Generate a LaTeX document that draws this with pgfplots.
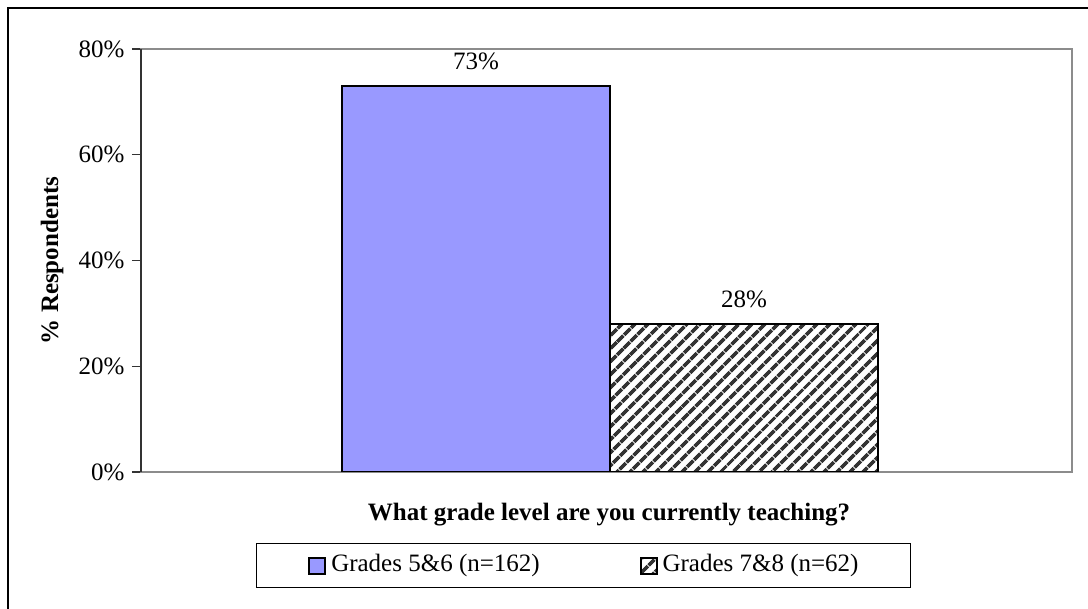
\documentclass[border=0pt]{standalone}
\usepackage{fontspec}
\setmainfont{Liberation Serif}
\usepackage{pgfplots}
\pgfplotsset{compat=1.18}
\usetikzlibrary{patterns.meta}
\definecolor{barblue}{HTML}{9999FF}
\definecolor{framegray}{HTML}{8C8C8C}
\definecolor{axisdark}{HTML}{333333}
\begin{document}
\begin{tikzpicture}[font=\fontsize{25bp}{29bp}\selectfont]
\useasboundingbox (0,0) rectangle (1088bp,609bp);
\draw[black, line width=1.2bp] (8bp,0) -- (8bp,601bp) -- (1088bp,601bp);
\begin{axis}[
  at={(141bp,137bp)}, anchor=south west,
  scale only axis, width=931bp, height=423bp,
  ybar=0pt, bar width=268bp,
  xmin=-469, xmax=462,
  ymin=0, ymax=80,
  ytick={0,20,40,60,80},
  xtick=\empty,
  ytick pos=left,
  /pgf/number format/assume math mode=true,
  yticklabel={\pgfmathprintnumber{\tick}\%},
  yticklabel style={xshift=-4bp},
  tick align=outside, major tick length=9bp,
  y tick style={axisdark, line width=1.2bp},
  axis line style={framegray, line width=1.2bp},
  extra description/.code={\draw[axisdark, line width=1.4bp] (0,0) -- (0,1);},
  ylabel={\textbf{\% Respondents}},
  ylabel style={at={(axis description cs:-0.0956,0.5)}, anchor=center, rotate=0},
  xlabel={\textbf{What grade level are you currently teaching?}},
  xlabel style={at={(axis description cs:0.5027,-0.1017)}, anchor=center},
  nodes near coords={\pgfmathprintnumber{\pgfplotspointmeta}\%},
  every node near coord/.append style={anchor=center, yshift=25bp, black},
  legend columns=2,
  legend image code/.code={\draw[#1, line width=1.8bp] (0bp,-8bp) rectangle (16bp,8bp);},
  legend style={at={(axis description cs:0.4753,-0.2222)}, anchor=center,
    draw=black, line width=1bp, inner xsep=52bp, inner ysep=11bp,
    nodes={inner sep=0pt, text height=17bp, text depth=5bp},
    /tikz/every odd column/.append style={column sep=5bp},
    /tikz/every even column/.append style={column sep=100bp},
    legend cell align=left},
]
\addplot[draw=black, line width=1.8bp, fill=barblue] coordinates {(0,73)};
\addlegendentry{Grades 5\&6 (n=162)}
\addplot[draw=black, line width=1.8bp, fill=white, pattern={Lines[angle=45, distance=9.5bp, line width=3.8bp]}, pattern color=black!80] coordinates {(0,28)};
\addlegendentry{Grades 7\&8 (n=62)}
\end{axis}
\end{tikzpicture}
\end{document}
